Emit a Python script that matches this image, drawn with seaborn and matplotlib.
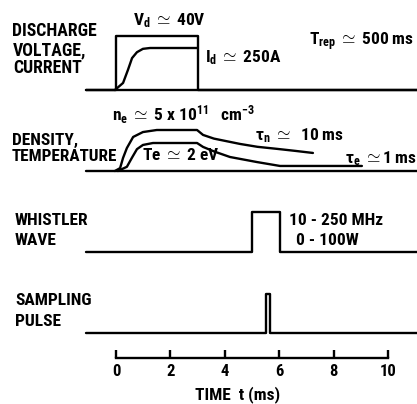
import matplotlib
matplotlib.use("Agg")
import matplotlib.pyplot as plt
from matplotlib import font_manager
import seaborn as sns

# ---------------- data ----------------
# discharge voltage (V) and current (A) vs time (ms)
time_voltage = [-1.1, 0.0, 0.0, 3.0, 3.0, 11.1]
voltage = [0, 0, 40, 40, 0, 0]
time_current = [-0.04, 0.26, 0.44, 0.59, 0.77, 0.99, 1.25, 3.0]
current = [0, 42, 120, 190, 225, 245, 250, 250]

# density (1e11 cm^-3) and electron temperature (eV) vs time (ms)
time_density = [-0.04, 0.15, 0.26, 0.40, 0.63, 0.99, 1.5, 2.98, 3.2, 3.6,
                4.56, 5.2, 5.92, 6.6, 7.24]
density = [0, 0.35, 1.6, 2.8, 4.15, 4.75, 5.0, 5.0, 4.4, 3.95,
           3.3, 2.95, 2.7, 2.45, 2.2]
time_temp = [0.07, 0.4, 0.59, 0.77, 0.99, 1.36, 2.98, 3.2, 3.6, 4.19,
             5.18, 6.03, 9.04]
temp = [0, 0.3, 0.96, 1.56, 1.86, 2.0, 2.0, 1.72, 1.4, 1.0,
        0.64, 0.36, 0.36]

# whistler wave (normalised power) and sampling pulse
time_whistler = [-1.1, 5.0, 5.0, 6.03, 6.03, 11.1]
whistler = [0, 0, 1, 1, 0, 0]
time_sampling = [-1.1, 5.52, 5.52, 5.66, 5.66, 11.1]
sampling = [0, 0, 1, 1, 0, 0]

baseline_time = [-1.1, 11.1]
tick_values = [0, 2, 4, 6, 8, 10]
tick_labels = ["0", "2", "4", "6", "8", "10"]

# ---------------- style ----------------
sns.set_theme(style="white")
avail = {f.name for f in font_manager.fontManager.ttflist}
fam = next((f for f in ["Liberation Sans Narrow", "Roboto Condensed",
                        "Open Sans Condensed", "DejaVu Sans"] if f in avail),
           "DejaVu Sans")
plt.rcParams["font.family"] = [fam, "DejaVu Sans"]
plt.rcParams["mathtext.fontset"] = "custom"
plt.rcParams["mathtext.rm"] = fam + ":bold"
plt.rcParams["mathtext.it"] = fam + ":bold"
plt.rcParams["mathtext.bf"] = fam + ":bold"
plt.rcParams["mathtext.sf"] = fam + ":bold"
plt.rcParams["mathtext.default"] = "rm"

W, H = 417, 404
fig = plt.figure(figsize=(W / 100, H / 100), dpi=100)
ax = fig.add_axes([0, 0, 1, 1])
PX_PER_MS = 27.2
T0 = 116
ax.set_xlim(-T0 / PX_PER_MS, (W - T0) / PX_PER_MS)
ax.set_ylim(0, H)


def Y(py):
    return H - py


LW = 1.7
kw = dict(color="black", linewidth=LW, sort=False, estimator=None, ax=ax,
          legend=False)

# discharge panel
b1 = Y(90)
sns.lineplot(x=time_voltage, y=[b1 + v * 54 / 40 for v in voltage], **kw)
sns.lineplot(x=time_current, y=[b1 + c * 42 / 250 for c in current], **kw)
sns.lineplot(x=baseline_time, y=[b1, b1], **kw)

# density / temperature panel
b2 = Y(171)
sns.lineplot(x=baseline_time, y=[b2, b2], **kw)
sns.lineplot(x=time_density, y=[b2 + d * 41 / 5 for d in density], **kw)
sns.lineplot(x=time_temp, y=[b2 + t * 28 / 2 for t in temp], **kw)

# whistler panel
b3 = Y(252)
sns.lineplot(x=time_whistler, y=[b3 + w * 40 for w in whistler], **kw)

# sampling panel
b4 = Y(333)
sns.lineplot(x=time_sampling, y=[b4 + s * 39 for s in sampling], **kw)

# time axis using the bottom spine
for s in ["left", "top", "right"]:
    ax.spines[s].set_visible(False)
ax.spines["bottom"].set_visible(True)
ax.spines["bottom"].set_color("black")
ax.spines["bottom"].set_linewidth(LW)
ax.spines["bottom"].set_position(("data", Y(358)))
ax.spines["bottom"].set_bounds(0, 10)
ax.set_xticks(tick_values)
ax.set_xticklabels(tick_labels, fontsize=12, fontweight="bold")
ax.tick_params(axis="x", direction="in", length=6, width=LW, colors="black",
               pad=4, bottom=True)
ax.set_yticks([])
ax.grid(False)


def tx(px, py, s, size=12, **k):
    ax.text((px - T0) / PX_PER_MS, Y(py), s, fontsize=size, fontweight="bold",
            va="baseline", ha="left", color="black", **k)


# left labels
tx(12, 36, "DISCHARGE", 12.8)
tx(13, 55, "VOLTAGE,", 12.8)
tx(13, 73, "CURRENT", 12.8)
tx(12, 145, "DENSITY,", 12.5)
tx(12, 161, "TEMPERATURE", 12.3)
tx(15, 225, "WHISTLER", 12.5)
tx(15, 245, "WAVE", 12.5)
tx(15, 305, "SAMPLING", 12.5)
tx(15, 326, "PULSE", 12.5)

# annotations
tx(133, 25, r"$\mathregular{V_d}$ $\simeq$ 40V", 12.5)
tx(205, 62, r"$\mathregular{I_d}$ $\simeq$ 250A", 12.5)
tx(309, 45, r"$\mathregular{T_{rep}}$ $\simeq$ 500 ms", 12.5)
tx(112, 121, r"$\mathregular{n_e}$ $\simeq$ 5 x 10$^{\mathregular{11}}$   cm$^{\mathregular{-3}}$", 12.5)
tx(255, 140, r"$\tau_{\mathregular{n}}$ $\simeq$  10 ms", 12.5)
tx(142, 160, r"Te $\simeq$ 2 eV", 12.5)
tx(345, 163, r"$\tau_{\mathregular{e}}$ $\simeq$1 ms", 12.5)
tx(289, 225, "10 - 250 MHz", 12.5)
tx(296, 245, "0 - 100W", 12.5)
tx(195, 399, "TIME  t (ms)", 12.5)

fig.savefig("out.png", dpi=100, facecolor="white")
